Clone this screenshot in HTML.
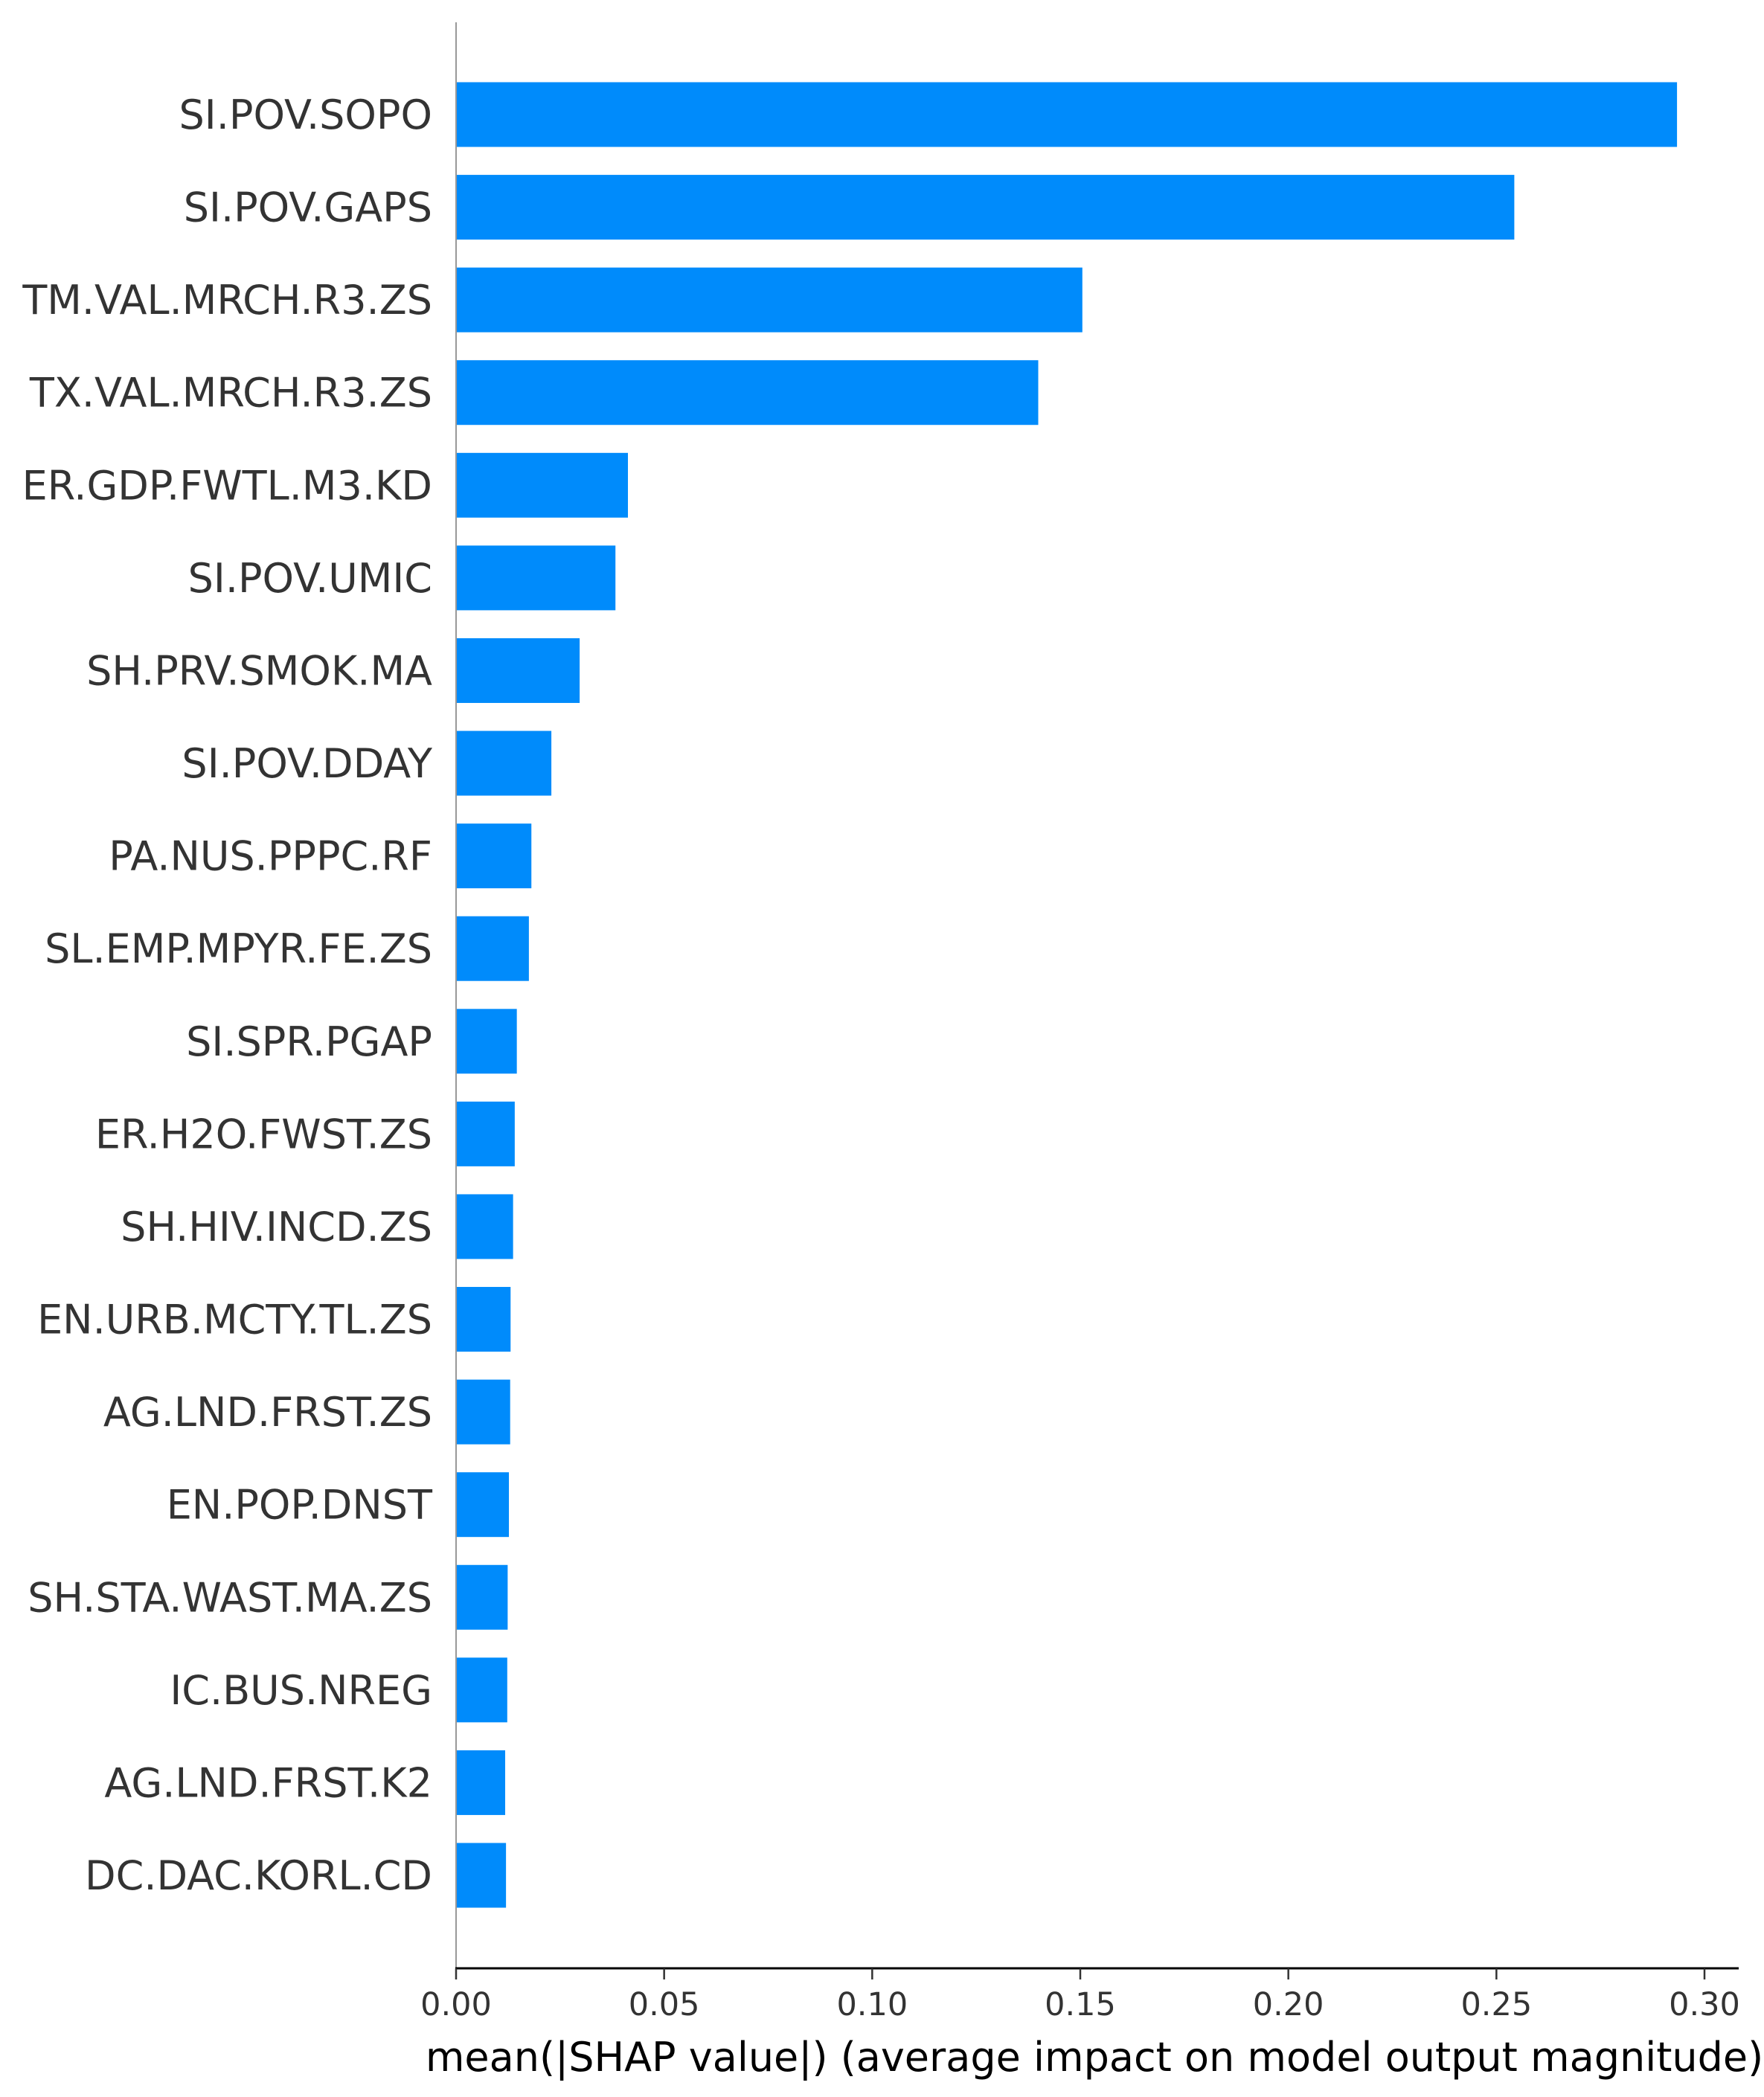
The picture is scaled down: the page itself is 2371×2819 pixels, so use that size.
<!DOCTYPE html>
<html><head><meta charset="utf-8"><style>
html,body{margin:0;padding:0;background:#fff;}
svg{display:block;font-family:"DejaVu Sans","Liberation Sans",sans-serif;}
</style></head><body>
<svg id="chart" width="2371" height="2819" viewBox="0 0 2371 2819" xmlns="http://www.w3.org/2000/svg">
<g id="bars"></g>
<g id="labels"></g>
<line x1="613" y1="30" x2="613" y2="2646" stroke="#999" stroke-width="2"/>
<line x1="612" y1="2646" x2="2337" y2="2646" stroke="#000" stroke-width="3"/>
<g id="ticks"></g>
<text x="1471" y="2784" font-size="54" fill="#000" text-anchor="middle">mean(|SHAP value|) (average impact on model output magnitude)</text>
</svg>
<script>
const features = ["SI.POV.SOPO","SI.POV.GAPS","TM.VAL.MRCH.R3.ZS","TX.VAL.MRCH.R3.ZS","ER.GDP.FWTL.M3.KD","SI.POV.UMIC","SH.PRV.SMOK.MA","SI.POV.DDAY","PA.NUS.PPPC.RF","SL.EMP.MPYR.FE.ZS","SI.SPR.PGAP","ER.H2O.FWST.ZS","SH.HIV.INCD.ZS","EN.URB.MCTY.TL.ZS","AG.LND.FRST.ZS","EN.POP.DNST","SH.STA.WAST.MA.ZS","IC.BUS.NREG","AG.LND.FRST.K2","DC.DAC.KORL.CD"];
const values = [0.2934,0.2543,0.1505,0.1399,0.0413,0.0383,0.0297,0.0229,0.0181,0.0175,0.0146,0.0141,0.0137,0.0131,0.0130,0.0127,0.0124,0.0123,0.0118,0.0120];
const tickValues = [0,0.05,0.10,0.15,0.20,0.25,0.30];
const tickLabels = ["0.00","0.05","0.10","0.15","0.20","0.25","0.30"];
const NS="http://www.w3.org/2000/svg";
const x0=613, pxPerUnit=(2291-613)/0.30;
function xScale(v){return x0+v*pxPerUnit;}
const yTop=154, pitch=(2521-154)/19, barH=87;
function yScale(i){return yTop+i*pitch;}
const gb=document.getElementById('bars'), gl=document.getElementById('labels'), gt=document.getElementById('ticks');
features.forEach((f,i)=>{
  const r=document.createElementNS(NS,'rect');
  r.setAttribute('x',x0);
  r.setAttribute('y',yScale(i)-barH/2);
  r.setAttribute('width',xScale(values[i])-x0);
  r.setAttribute('height',barH);
  r.setAttribute('fill','#008bfb');
  
  
  gb.appendChild(r);
  const t=document.createElementNS(NS,'text');
  t.setAttribute('x',581);
  t.setAttribute('y',yScale(i)+19);
  t.setAttribute('font-size','54');
  t.setAttribute('fill','#333');
  t.setAttribute('text-anchor','end');
  t.textContent=f;
  
  
  gl.appendChild(t);
});
tickValues.forEach((v,i)=>{
  const x=xScale(v);
  const l=document.createElementNS(NS,'line');
  l.setAttribute('x1',x);l.setAttribute('x2',x);
  l.setAttribute('y1',2646);l.setAttribute('y2',2661);
  l.setAttribute('stroke','#333');l.setAttribute('stroke-width','2.5');
  
  
  gt.appendChild(l);
  const t=document.createElementNS(NS,'text');
  t.setAttribute('x',x);t.setAttribute('y',2709);
  t.setAttribute('font-size','43');t.setAttribute('fill','#333');
  t.setAttribute('text-anchor','middle');
  t.textContent=tickLabels[i];
  
  
  gt.appendChild(t);
});
</script>
</body></html>
